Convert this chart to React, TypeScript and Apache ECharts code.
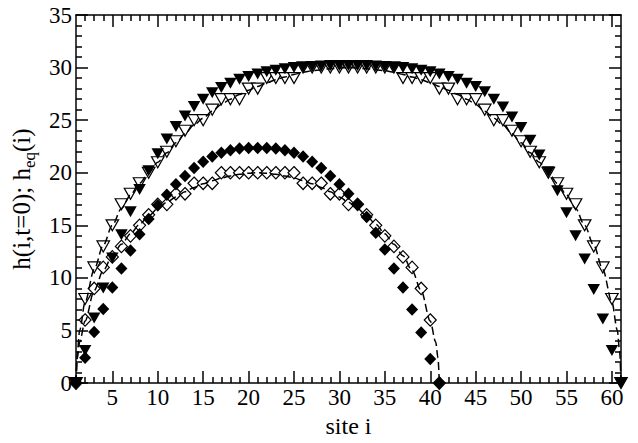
import React, { useEffect, useRef } from "react";
import * as echarts from "echarts";

// ---- data ----
const filledL60 = [
  0, 3.1, 6.2, 9.05, 11.9, 14.1, 16.3, 18.4, 20.2, 21.8, 23.2, 24.4, 25.4, 26.3, 27.0, 27.6, 28.1, 28.5, 28.9, 29.15,
  29.4, 29.6, 29.75, 29.9, 30.0, 30.05, 30.1, 30.15, 30.2, 30.2, 30.2, 30.2, 30.2, 30.15, 30.1, 30.05, 30.0, 29.9, 29.75, 29.6,
  29.4, 29.15, 28.9, 28.5, 28.2, 27.7, 27.0, 26.25, 25.3, 24.3, 23.1, 21.7, 20.1, 18.3, 16.2, 14.0, 11.8, 8.9, 6.1, 3.1, 0,
];
const openL60 = [
  0, 8, 11, 13, 15, 17, 18, 19, 20, 21, 22, 23, 24, 25, 25, 26, 27, 27, 27, 28,
  28, 29, 29, 29, 29, 30, 30, 30, 30, 30, 30, 30, 30, 30, 30, 30, 29, 29, 29, 29,
  28, 28, 27, 27, 27, 26, 25, 25, 24, 23, 22, 21, 20, 19, 18, 17, 15, 13, 11, 8, 0,
];
const filledL40 = [
  0, 2.4, 4.85, 7.05, 9.1, 10.9, 12.6, 14.15, 15.6, 16.9, 17.9, 18.9, 19.7, 20.45, 21.05, 21.55, 21.9, 22.15, 22.3, 22.35,
  22.35, 22.35, 22.3, 22.15, 21.9, 21.55, 21.05, 20.45, 19.7, 18.9, 18.0, 17.0, 15.8, 14.3, 12.7, 10.9, 9.1, 7.0, 4.8, 2.3, 0,
];
const openL40 = [
  0, 6, 9, 11, 12, 13, 14, 15, 16, 17, 17, 18, 18, 19, 19, 19, 20, 20, 20, 20,
  20, 20, 20, 20, 20, 19, 19, 19, 18, 18, 17, 17, 16, 15, 14, 13, 12, 11, 9, 6, 0,
];
// dashed h_eq curves: [site, height]
const dashL60: [number, number][] = [
  [1, 0], [1.15, 3.0], [1.4, 5.0], [2, 7.7], [3, 10.8], [4, 13.1], [5, 15.0], [6, 16.6], [7, 17.9], [8, 19.0],
  [9, 20.0], [10, 21.0], [11, 21.9], [12, 22.85], [13, 23.7], [14, 24.55], [15, 25.2], [16, 25.85], [17, 26.5], [18, 27.0],
  [19, 27.45], [20, 27.85], [21, 28.2], [22, 28.55], [23, 28.85], [24, 29.1], [25, 29.35], [26, 29.55], [27, 29.7], [28, 29.8],
  [29, 29.9], [30, 29.95], [31, 30.0], [32, 29.95], [33, 29.9], [34, 29.8], [35, 29.7], [36, 29.55], [37, 29.35], [38, 29.1],
  [39, 28.85], [40, 28.55], [41, 28.2], [42, 27.85], [43, 27.45], [44, 27.0], [45, 26.5], [46, 25.85], [47, 25.2], [48, 24.55],
  [49, 23.7], [50, 22.85], [51, 21.9], [52, 21.0], [53, 20.0], [54, 19.0], [55, 17.9], [56, 16.6], [57, 15.0], [58, 13.1],
  [59, 10.8], [60, 7.7], [60.6, 5.0], [60.85, 3.0], [61, 0],
];
const dashL40: [number, number][] = [
  [1, 0], [1.15, 2.4], [1.4, 3.9], [2, 5.9], [3, 8.8], [4, 10.7], [5, 12.1], [6, 13.2], [7, 14.2], [8, 15.1],
  [9, 15.9], [10, 16.6], [11, 17.2], [12, 17.7], [13, 18.2], [14, 18.6], [15, 18.95], [16, 19.25], [17, 19.5], [18, 19.7],
  [19, 19.85], [20, 19.95], [21, 20.0], [22, 19.95], [23, 19.85], [24, 19.7], [25, 19.5], [26, 19.25], [27, 18.95], [28, 18.6],
  [29, 18.2], [30, 17.7], [31, 17.2], [32, 16.6], [33, 15.9], [34, 15.1], [35, 14.2], [36, 13.2], [37, 12.1], [38, 10.7],
  [39, 8.8], [40, 5.9], [40.6, 3.9], [40.85, 2.4], [41, 0],
];
const xMajorTicks = [5, 10, 15, 20, 25, 30, 35, 40, 45, 50, 55, 60];
const xMinorTicks = Array.from({ length: 59 }, (_, k) => k + 2).filter((v) => v % 5 !== 0);

const FONT = "'Liberation Serif', 'DejaVu Serif', serif";

const pairs = (vals: number[]) => vals.map((v, k) => [k + 1, v]);

export default function App() {
  const ref = useRef<HTMLDivElement>(null);
  useEffect(() => {
    document.body.style.margin = "0";
    if (!ref.current) return;
    const chart = echarts.init(ref.current, undefined, { renderer: "svg" });
    const line = { color: "#000", width: 1.5 };
    const xBase = { type: "value", min: 1, max: 61, splitLine: { show: false } };
    const triSize = [12.5, 11];
    const diaSize = [12, 12.5];
    chart.setOption({
      animation: false,
      backgroundColor: "#fff",
      grid: { left: 76, top: 15, right: 17, bottom: 48 },
      xAxis: [
        {
          ...xBase,
          position: "bottom",
          axisLine: { show: true, onZero: false, lineStyle: line },
          axisTick: { show: true, inside: true, length: 12, customValues: xMajorTicks, lineStyle: line },
          axisLabel: { customValues: xMajorTicks, color: "#000", fontFamily: FONT, fontSize: 23, margin: 3 },
          name: "site i",
          nameLocation: "middle",
          nameGap: 21,
          nameTextStyle: { color: "#000", fontFamily: FONT, fontSize: 24 },
        },
        {
          ...xBase,
          position: "bottom",
          axisLine: { show: false, onZero: false },
          axisTick: { show: true, inside: true, length: 6, customValues: xMinorTicks, lineStyle: line },
          axisLabel: { show: false },
        },
        {
          ...xBase,
          position: "top",
          axisLine: { show: true, onZero: false, lineStyle: line },
          axisTick: { show: true, inside: true, length: 12, customValues: xMajorTicks, lineStyle: line },
          axisLabel: { show: false },
        },
        {
          ...xBase,
          position: "top",
          axisLine: { show: false, onZero: false },
          axisTick: { show: true, inside: true, length: 6, customValues: xMinorTicks, lineStyle: line },
          axisLabel: { show: false },
        },
      ],
      yAxis: [
        {
          type: "value",
          position: "left",
          min: 0,
          max: 35,
          interval: 5,
          splitLine: { show: false },
          axisLine: { show: true, onZero: false, lineStyle: line },
          axisTick: { show: true, inside: true, length: 12, lineStyle: line },
          minorTick: { show: true, splitNumber: 5, length: 6, lineStyle: line },
          axisLabel: { color: "#000", fontFamily: FONT, fontSize: 23, margin: 4 },
          name: "{a|h(i,t=0); h}{s|eq}{a|(i)}",
          nameLocation: "middle",
          nameGap: 32,
          nameTextStyle: {
            color: "#000",
            fontFamily: FONT,
            fontSize: 25,
            rich: {
              a: { fontFamily: FONT, fontSize: 25, color: "#000", lineHeight: 34, verticalAlign: "middle" },
              s: { fontFamily: FONT, fontSize: 17, color: "#000", lineHeight: 17, verticalAlign: "bottom" },
            },
          },
        },
        {
          type: "value",
          position: "right",
          min: 0,
          max: 35,
          interval: 5,
          splitLine: { show: false },
          axisLine: { show: true, onZero: false, lineStyle: line },
          axisTick: { show: true, inside: true, length: 12, lineStyle: line },
          minorTick: { show: true, splitNumber: 5, length: 6, lineStyle: line },
          axisLabel: { show: false },
        },
      ],
      series: [
        {
          type: "scatter",
          silent: true,
          z: 2,
          data: pairs(openL60),
          symbol: "triangle",
          symbolRotate: 180,
          symbolSize: triSize,
          itemStyle: { color: "#fff", borderColor: "#000", borderWidth: 1.2, opacity: 1 },
        },
        {
          type: "scatter",
          silent: true,
          z: 2,
          data: pairs(openL40),
          symbol: "diamond",
          symbolSize: diaSize,
          itemStyle: { color: "#fff", borderColor: "#000", borderWidth: 1.2, opacity: 1 },
        },
        {
          type: "line",
          silent: true,
          z: 3,
          data: dashL60,
          showSymbol: false,
          smooth: 0.3,
          smoothMonotone: "x",
          lineStyle: { color: "#000", width: 1.5, type: [8, 4] },
        },
        {
          type: "line",
          silent: true,
          z: 3,
          data: dashL40,
          showSymbol: false,
          smooth: 0.3,
          smoothMonotone: "x",
          lineStyle: { color: "#000", width: 1.5, type: [8, 4] },
        },
        {
          type: "scatter",
          silent: true,
          z: 4,
          data: pairs(filledL60),
          symbol: "triangle",
          symbolRotate: 180,
          symbolSize: triSize,
          itemStyle: { color: "#000", opacity: 1 },
        },
        {
          type: "scatter",
          silent: true,
          z: 4,
          data: pairs(filledL40),
          symbol: "diamond",
          symbolSize: diaSize,
          itemStyle: { color: "#000", opacity: 1 },
        },
      ],
    });
    return () => chart.dispose();
  }, []);
  return <div ref={ref} style={{ width: 638, height: 443 }} />;
}
